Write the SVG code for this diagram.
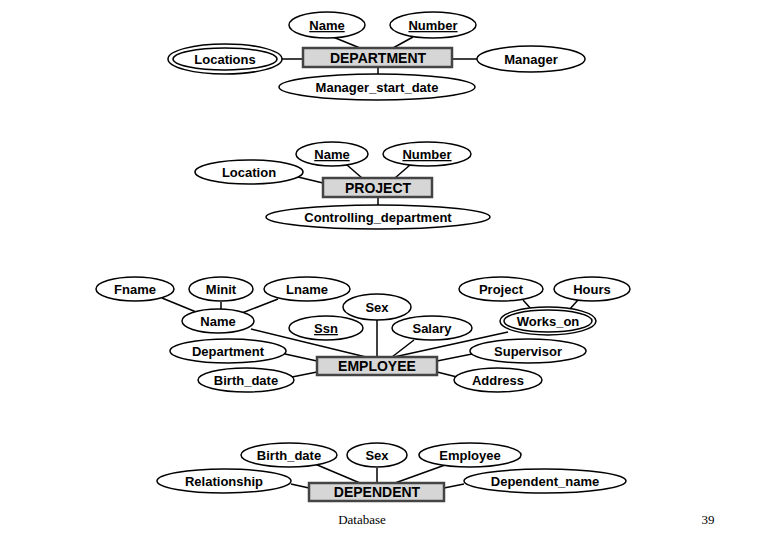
<svg xmlns="http://www.w3.org/2000/svg" width="780" height="540" viewBox="0 0 780 540">
<style>
ellipse{fill:#fff;stroke:#000;stroke-width:1.5}
.ent rect{fill:#d6d6d6;stroke:#444;stroke-width:2.5}
text{font-family:"Liberation Sans",Arial,sans-serif;font-size:13px;font-weight:bold;text-anchor:middle;fill:#000}
.ent text{font-size:14px}
#conn line{stroke:#000;stroke-width:1.5}
.foot{font-family:"Liberation Serif","Times New Roman",serif;font-weight:normal;font-size:13px}
</style>
<rect width="780" height="540" fill="#fff"/>
<g id="conn">
<line x1="333" y1="37" x2="360" y2="48"/><line x1="413" y1="37" x2="393" y2="48"/>
<line x1="282" y1="59" x2="303" y2="59"/><line x1="452" y1="59" x2="477" y2="59"/>
<line x1="378" y1="67" x2="378" y2="75"/>
<line x1="347" y1="165" x2="362" y2="178"/><line x1="410" y1="165" x2="395" y2="178"/>
<line x1="298" y1="177" x2="323" y2="183"/><line x1="378" y1="197" x2="378" y2="205"/>
<line x1="162" y1="298" x2="201" y2="314"/><line x1="221" y1="302" x2="221" y2="309"/><line x1="278" y1="299" x2="242" y2="313"/>
<line x1="523" y1="300" x2="532" y2="310"/><line x1="578" y1="300" x2="569" y2="310"/>
<line x1="251" y1="329" x2="366" y2="357"/><line x1="377" y1="320" x2="377" y2="357"/>
<line x1="414" y1="340" x2="392" y2="357"/><line x1="508" y1="332" x2="394" y2="357"/>
<line x1="285" y1="354" x2="317" y2="361"/><line x1="472" y1="354" x2="437" y2="361"/>
<line x1="292" y1="377" x2="317" y2="372"/><line x1="457" y1="377" x2="437" y2="372"/>
<line x1="315" y1="464" x2="360" y2="483"/><line x1="377" y1="468" x2="377" y2="483"/><line x1="445" y1="465" x2="395" y2="483"/>
<line x1="291" y1="484" x2="309" y2="488"/><line x1="464" y1="484" x2="444" y2="488"/>
</g>
<g id="dept" class="ent"><rect x="303" y="48" width="149" height="19"/><text x="378" y="63">DEPARTMENT</text></g>
<g id="d_name"><ellipse cx="327" cy="25" rx="38" ry="13"/><text x="327" y="30" text-decoration="underline">Name</text></g>
<g id="d_number"><ellipse cx="433" cy="25" rx="43" ry="13"/><text x="433" y="30" text-decoration="underline">Number</text></g>
<g id="d_locations"><ellipse cx="225" cy="59" rx="57" ry="15"/><ellipse cx="225" cy="59" rx="52" ry="11"/><text x="225" y="64">Locations</text></g>
<g id="d_manager"><ellipse cx="531" cy="59" rx="54" ry="13"/><text x="531" y="64">Manager</text></g>
<g id="d_msd"><ellipse cx="377" cy="87" rx="98" ry="13"/><text x="377" y="92">Manager_start_date</text></g>
<g id="proj" class="ent"><rect x="323" y="178" width="109" height="19"/><text x="378" y="193">PROJECT</text></g>
<g id="p_name"><ellipse cx="332" cy="154" rx="36" ry="12"/><text x="332" y="159" text-decoration="underline">Name</text></g>
<g id="p_number"><ellipse cx="427" cy="154" rx="44" ry="12"/><text x="427" y="159" text-decoration="underline">Number</text></g>
<g id="p_location"><ellipse cx="249" cy="172" rx="54" ry="12"/><text x="249" y="177">Location</text></g>
<g id="p_cd"><ellipse cx="378" cy="217" rx="112" ry="12"/><text x="378" y="222">Controlling_department</text></g>
<g id="emp" class="ent"><rect x="317" y="357" width="120" height="18"/><text x="377" y="371">EMPLOYEE</text></g>
<g id="e_fname"><ellipse cx="135" cy="289" rx="39" ry="12"/><text x="135" y="294">Fname</text></g>
<g id="e_minit"><ellipse cx="221" cy="289" rx="32" ry="12"/><text x="221" y="294">Minit</text></g>
<g id="e_lname"><ellipse cx="307" cy="289" rx="43" ry="12"/><text x="307" y="294">Lname</text></g>
<g id="e_name"><ellipse cx="218" cy="321" rx="36" ry="12"/><text x="218" y="326">Name</text></g>
<g id="e_sex"><ellipse cx="377" cy="307" rx="34" ry="13"/><text x="377" y="312">Sex</text></g>
<g id="e_ssn"><ellipse cx="326" cy="328" rx="37" ry="12"/><text x="326" y="333" text-decoration="underline">Ssn</text></g>
<g id="e_salary"><ellipse cx="432" cy="328" rx="40" ry="12"/><text x="432" y="333">Salary</text></g>
<g id="e_project"><ellipse cx="501" cy="289" rx="42" ry="12"/><text x="501" y="294">Project</text></g>
<g id="e_hours"><ellipse cx="592" cy="289" rx="38" ry="12"/><text x="592" y="294">Hours</text></g>
<g id="e_works"><ellipse cx="548" cy="321" rx="48" ry="14"/><ellipse cx="548" cy="321" rx="44" ry="11"/><text x="548" y="326">Works_on</text></g>
<g id="e_dept"><ellipse cx="228" cy="351" rx="58" ry="12"/><text x="228" y="356">Department</text></g>
<g id="e_super"><ellipse cx="528" cy="351" rx="58" ry="12"/><text x="528" y="356">Supervisor</text></g>
<g id="e_bdate"><ellipse cx="246" cy="380" rx="48" ry="12"/><text x="246" y="385">Birth_date</text></g>
<g id="e_addr"><ellipse cx="498" cy="380" rx="44" ry="12"/><text x="498" y="385">Address</text></g>
<g id="dep" class="ent"><rect x="309" y="483" width="135" height="18"/><text x="377" y="497">DEPENDENT</text></g>
<g id="dp_bdate"><ellipse cx="289" cy="455" rx="48" ry="12"/><text x="289" y="460">Birth_date</text></g>
<g id="dp_sex"><ellipse cx="377" cy="455" rx="30" ry="12"/><text x="377" y="460">Sex</text></g>
<g id="dp_emp"><ellipse cx="470" cy="455" rx="51" ry="12"/><text x="470" y="460">Employee</text></g>
<g id="dp_rel"><ellipse cx="224" cy="481" rx="67" ry="12"/><text x="224" y="486">Relationship</text></g>
<g id="dp_dname"><ellipse cx="545" cy="481" rx="81" ry="12"/><text x="545" y="486">Dependent_name</text></g>
<text class="foot" x="362" y="524">Database</text>
<text class="foot" x="708" y="524">39</text>
</svg>
